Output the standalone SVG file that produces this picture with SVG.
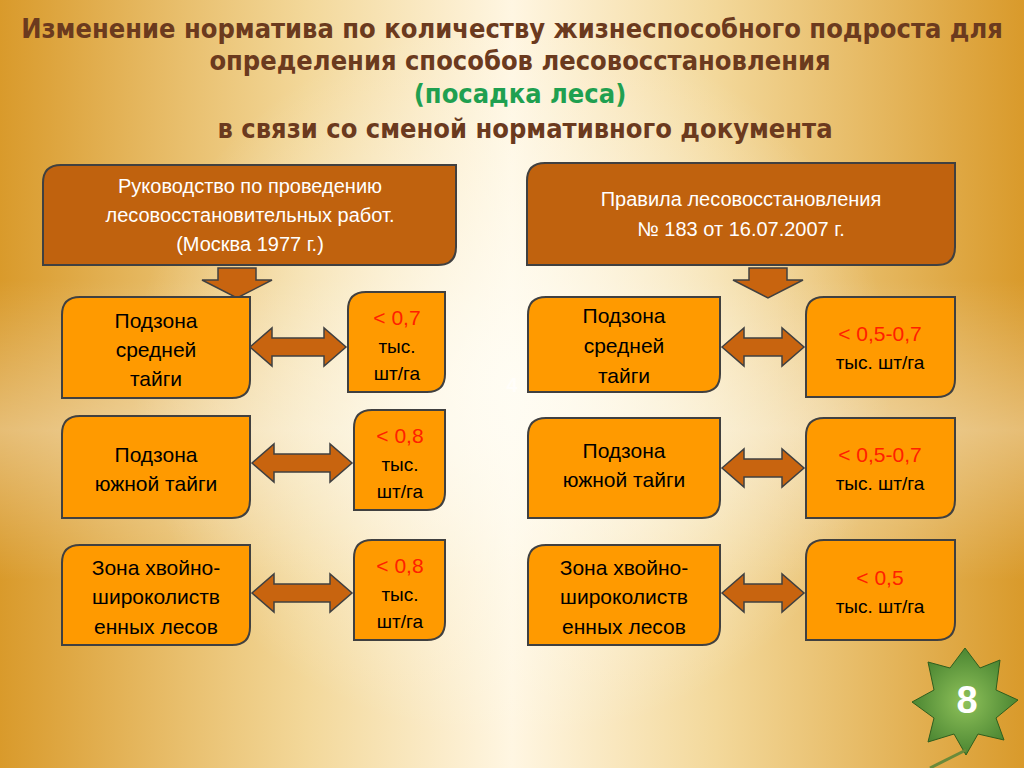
<svg xmlns="http://www.w3.org/2000/svg" width="1024" height="768" viewBox="0 0 1024 768">
<defs>
<linearGradient id="bgx" x1="0" y1="0" x2="1" y2="0">
<stop offset="0" stop-color="#D99A2B"/><stop offset="0.3" stop-color="#F3D89A"/><stop offset="0.5" stop-color="#FFF6E2"/><stop offset="0.7" stop-color="#F3D89A"/><stop offset="1" stop-color="#D99A2B"/>
</linearGradient>
<radialGradient id="glow" cx="0.5" cy="0.5" r="0.5">
<stop offset="0" stop-color="#FFFDF4" stop-opacity="0.9"/><stop offset="1" stop-color="#FFFDF4" stop-opacity="0"/>
</radialGradient>
<linearGradient id="band" x1="0" y1="0" x2="0" y2="1">
<stop offset="0" stop-color="#FFFFFF" stop-opacity="0"/><stop offset="0.5" stop-color="#FFFFFF" stop-opacity="0.35"/><stop offset="1" stop-color="#FFFFFF" stop-opacity="0"/>
</linearGradient>
<radialGradient id="leafg" cx="0.5" cy="0.5" r="0.6">
<stop offset="0" stop-color="#8FC25A"/><stop offset="1" stop-color="#3E7A2A"/>
</radialGradient>
</defs>
<style>
.hdr{fill:#C0620E;stroke:#404040;stroke-width:2}
.box{fill:#FF9A00;stroke:#404040;stroke-width:2}
.arr{fill:#C8640F;stroke:#404040;stroke-width:1.5}
text{font-family:"Liberation Sans","DejaVu Sans",sans-serif;text-anchor:middle}
.t{font-size:21px;fill:#000}
.ht{font-size:20px;fill:#FFFFFF}
.red{fill:#FF2000}
.title{font-family:"DejaVu Sans Condensed","DejaVu Sans",sans-serif;font-size:27px;font-weight:bold;fill:#6B3A1E}
</style>
<rect width="1024" height="768" fill="url(#bgx)"/>
<rect x="0" y="280" width="1024" height="300" fill="url(#band)"/>
<ellipse cx="512" cy="380" rx="380" ry="360" fill="url(#glow)"/>

<g id="title">
<text class="title" x="512" y="38">Изменение норматива по количеству жизнеспособного подроста  для</text>
<text class="title" x="520" y="70">определения способов лесовосстановления</text>
<text class="title" x="520" y="103" fill="#1FA050" style="fill:#1FA050">(посадка леса)</text>
<text class="title" x="525" y="138">в связи со сменой нормативного документа</text>
</g>

<text x="512" y="392" style="font-size:20px;font-weight:bold;fill:#FFFFFF;opacity:0.6">4</text>

<g id="connectors">
<path class="arr" d="M218,268 H256 V280 H272 L237,298 L202,280 H218 Z"/>
<path class="arr" d="M749,268 H787 V280 H803 L768,298 L733,280 H749 Z"/>
<path class="arr" d="M250,347 L272,328 V338 H324 V328 L346,347 L324,366 V356 H272 V366 Z"/>
<path class="arr" d="M252,463 L274,444 V454 H330 V444 L352,463 L330,482 V472 H274 V482 Z"/>
<path class="arr" d="M252,593 L274,574 V584 H330 V574 L352,593 L330,612 V602 H274 V612 Z"/>
<path class="arr" d="M722,347 L744,328 V338 H782 V328 L804,347 L782,366 V356 H744 V366 Z"/>
<path class="arr" d="M722,468 L744,449 V459 H782 V449 L804,468 L782,487 V477 H744 V487 Z"/>
<path class="arr" d="M722,593 L744,574 V584 H782 V574 L804,593 L782,612 V602 H744 V612 Z"/>
</g>

<g id="hdrL"><path class="hdr" d="M61,165 H456 V247 Q456,265 438,265 H43 V183 Q43,165 61,165 Z"/>
<text class="ht" x="250" y="193">Руководство по проведению</text>
<text class="ht" x="250" y="222">лесовосстановительных работ.</text>
<text class="ht" x="250" y="251">(Москва 1977 г.)</text></g>
<g id="hdrR"><path class="hdr" d="M545,163 H955 V247 Q955,265 937,265 H527 V181 Q527,163 545,163 Z"/>
<text class="ht" x="741" y="206">Правила лесовосстановления</text>
<text class="ht" x="741" y="236">№ 183 от 16.07.2007 г.</text></g>

<g id="L1"><path class="box" d="M80,297 H250 V380 Q250,398 232,398 H62 V315 Q62,297 80,297 Z"/>
<text class="t" x="156" y="328">Подзона</text><text class="t" x="156" y="357">средней</text><text class="t" x="156" y="386">тайги</text></g>
<g id="L2"><path class="box" d="M80,416 H250 V500 Q250,518 232,518 H62 V434 Q62,416 80,416 Z"/>
<text class="t" x="156" y="462">Подзона</text><text class="t" x="156" y="491">южной тайги</text></g>
<g id="L3"><path class="box" d="M80,545 H250 V627 Q250,645 232,645 H62 V563 Q62,545 80,545 Z"/>
<text class="t" x="156" y="575">Зона хвойно-</text><text class="t" x="156" y="604">широколиств</text><text class="t" x="156" y="634">енных лесов</text></g>

<g id="V1"><path class="box" d="M366,292 H445 V374 Q445,392 427,392 H348 V310 Q348,292 366,292 Z"/>
<text class="t red" x="397" y="325">&lt; 0,7</text><text class="t" x="397" y="353" style="font-size:19px">тыс.</text><text class="t" x="397" y="380" style="font-size:19px">шт/га</text></g>
<g id="V2"><path class="box" d="M372,410 H445 V492 Q445,510 427,510 H354 V428 Q354,410 372,410 Z"/>
<text class="t red" x="400" y="443">&lt; 0,8</text><text class="t" x="400" y="471" style="font-size:19px">тыс.</text><text class="t" x="400" y="498" style="font-size:19px">шт/га</text></g>
<g id="V3"><path class="box" d="M372,540 H445 V622 Q445,640 427,640 H354 V558 Q354,540 372,540 Z"/>
<text class="t red" x="400" y="573">&lt; 0,8</text><text class="t" x="400" y="601" style="font-size:19px">тыс.</text><text class="t" x="400" y="628" style="font-size:19px">шт/га</text></g>

<g id="R1"><path class="box" d="M546,297 H720 V374 Q720,392 702,392 H528 V315 Q528,297 546,297 Z"/>
<text class="t" x="624" y="323">Подзона</text><text class="t" x="624" y="353">средней</text><text class="t" x="624" y="383">тайги</text></g>
<g id="R2"><path class="box" d="M546,418 H720 V500 Q720,518 702,518 H528 V436 Q528,418 546,418 Z"/>
<text class="t" x="624" y="458">Подзона</text><text class="t" x="624" y="487">южной тайги</text></g>
<g id="R3"><path class="box" d="M546,545 H720 V627 Q720,645 702,645 H528 V563 Q528,545 546,545 Z"/>
<text class="t" x="624" y="575">Зона хвойно-</text><text class="t" x="624" y="604">широколиств</text><text class="t" x="624" y="634">енных лесов</text></g>

<g id="RV1"><path class="box" d="M824,297 H955 V379 Q955,397 937,397 H806 V315 Q806,297 824,297 Z"/>
<text class="t red" x="880" y="341">&lt; 0,5-0,7</text><text class="t" x="880" y="369" style="font-size:19px">тыс. шт/га</text></g>
<g id="RV2"><path class="box" d="M824,418 H955 V500 Q955,518 937,518 H806 V436 Q806,418 824,418 Z"/>
<text class="t red" x="880" y="462">&lt; 0,5-0,7</text><text class="t" x="880" y="490" style="font-size:19px">тыс. шт/га</text></g>
<g id="RV3"><path class="box" d="M824,540 H955 V622 Q955,640 937,640 H806 V558 Q806,540 824,540 Z"/>
<text class="t red" x="880" y="585">&lt; 0,5</text><text class="t" x="880" y="613" style="font-size:19px">тыс. шт/га</text></g>

<g id="leaf">
<path d="M965,648 L980,668 L1000,660 L996,690 L1018,700 L996,718 L1004,740 L978,734 L966,755 L954,734 L928,742 L934,718 L912,702 L934,690 L928,662 L950,668 Z" fill="url(#leafg)" stroke="#2F5E1E" stroke-width="1"/>
<path d="M966,750 L930,768" stroke="#6A8A3A" stroke-width="3"/>
<text x="967" y="713" style="font-size:38px;font-weight:bold;fill:#FFFFFF">8</text>
</g>
</svg>
